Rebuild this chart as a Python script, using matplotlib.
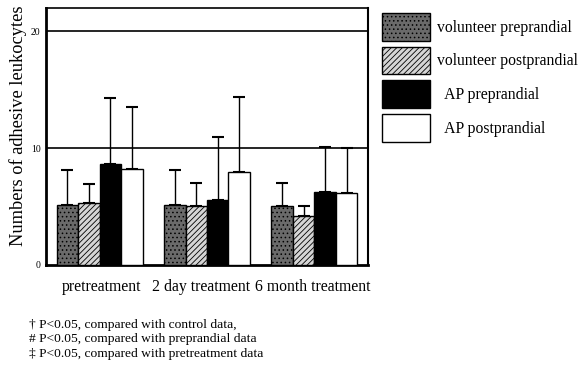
import matplotlib
matplotlib.use("Agg")
import matplotlib.pyplot as plt
import numpy as np

categories = ["pretreatment", "2 day treatment", "6 month treatment"]
series = ["volunteer preprandial", "volunteer postprandial", "AP preprandial", "AP postprandial"]
legend_labels = ["volunteer preprandial", "volunteer postprandial", "  AP preprandial", "  AP postprandial"]
vol_pre = [5.15, 5.15, 5.05]
vol_pre_sd = [3.0, 2.95, 2.0]
vol_post = [5.27, 5.04, 4.23]
vol_post_sd = [1.65, 1.95, 0.85]
ap_pre = [8.65, 5.55, 6.28]
ap_pre_sd = [5.65, 5.45, 3.8]
ap_post = [8.25, 7.94, 6.14]
ap_post_sd = [5.25, 6.45, 3.85]
yticks = [0, 10, 20]
footnotes = ["\u2020 P<0.05, compared with control data,",
             "# P<0.05, compared with preprandial data",
             "\u2021 P<0.05, compared with pretreatment data"]

plt.rcParams["font.family"] = ["Liberation Serif", "DejaVu Serif"]
plt.rcParams["hatch.linewidth"] = 0.6

fig = plt.figure(figsize=(5.81, 3.67), dpi=100)
ax = fig.add_axes([46/581, 1-265/367, (368-46)/581, (265-8)/367])

styles = [
    dict(facecolor="#6a6a6a", hatch="....", edgecolor="black"),
    dict(facecolor="#d5d5d5", hatch="//////", edgecolor="black"),
    dict(facecolor="black", edgecolor="black"),
    dict(facecolor="white", edgecolor="black"),
]
values = [vol_pre, vol_post, ap_pre, ap_post]
sds = [vol_pre_sd, vol_post_sd, ap_pre_sd, ap_post_sd]
centers = np.arange(len(categories)) * 5 + 2.5
offsets = [-1.5, -0.5, 0.5, 1.5]

for yv in [10, 20]:
    ax.axhline(yv, color="black", lw=1.2, zorder=1)

handles = []
for i in range(4):
    x = centers + offsets[i]
    v = np.array(values[i])
    err = np.array(sds[i])
    ax.errorbar(x, v, yerr=[np.zeros_like(err), err], fmt="none", ecolor="black",
                elinewidth=1.0, capsize=4, capthick=1.5, zorder=2)
    b = ax.bar(x, v, width=1.0, linewidth=1.0, zorder=3, label=legend_labels[i], **styles[i])
    handles.append(b)

ax.set_xlim(0, 15)
ax.set_ylim(0, 22)
ax.set_yticks(yticks)
ax.set_yticklabels([str(t) for t in yticks], fontsize=7)
ax.set_xticks(centers + np.array([0.1, -0.27, -0.07]))
ax.set_xticklabels(categories, fontsize=11.3)
ax.tick_params(axis="both", length=0)
ax.tick_params(axis="x", pad=10)
ax.tick_params(axis="y", pad=4)
ax.set_ylabel("Numbers of adhesive leukocytes", fontsize=13.2)
ax.yaxis.set_label_coords(-0.058, 0.54)
ax.spines["left"].set_linewidth(2)
ax.spines["bottom"].set_linewidth(2)
ax.spines["top"].set_linewidth(1.2)
ax.spines["right"].set_linewidth(1.5)

fig.legend(handles=handles, labels=legend_labels, loc="upper left",
           bbox_to_anchor=(382/581, 1-13/367), frameon=False, fontsize=11.3,
           handlelength=3.06, handleheight=2.36, labelspacing=0.36,
           handletextpad=0.45, borderpad=0, borderaxespad=0)

for k, t in enumerate(footnotes):
    fig.text(29/581, 1-(325+k*14.3)/367, t, fontsize=9.7, va="center", ha="left")

fig.savefig("out.png", dpi=100)
